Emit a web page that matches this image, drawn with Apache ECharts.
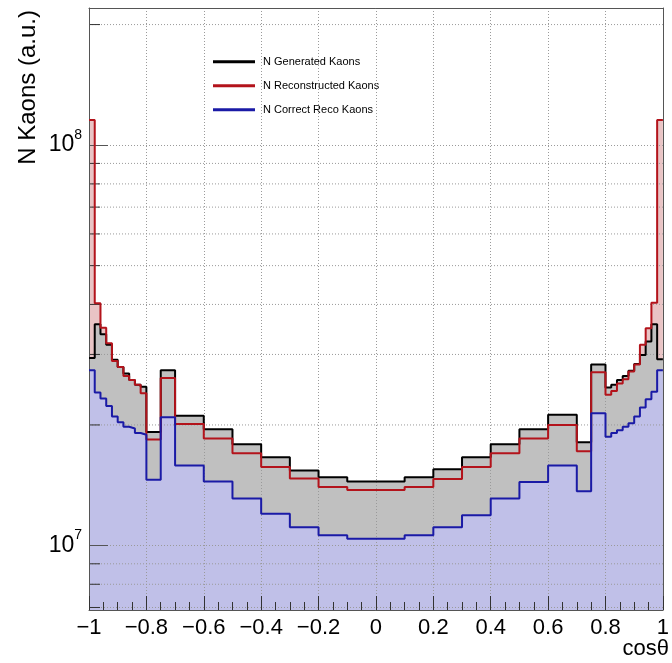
<!DOCTYPE html>
<html>
<head>
<meta charset="utf-8">
<script src="https://cdn.jsdelivr.net/npm/echarts@6/dist/echarts.min.js"></script>
<style>
  html, body { margin: 0; padding: 0; background: #fff; }
  #chart { width: 672px; height: 663px; }
</style>
</head>
<body>
<div id="chart"></div>
<script>
// histogram bin edges in cos(theta)
var binEdges = [-1, -0.98, -0.96, -0.94, -0.92, -0.9, -0.88, -0.86, -0.84, -0.82, -0.8,
  -0.75, -0.7, -0.6, -0.5, -0.4, -0.3, -0.2, -0.1, 0.1, 0.2, 0.3, 0.4, 0.5, 0.6, 0.7, 0.75,
  0.8, 0.82, 0.84, 0.86, 0.88, 0.9, 0.92, 0.94, 0.96, 0.98, 1];

// bin contents, one value per bin
var generated = [2.94e7, 3.57e7, 3.37e7, 3.17e7, 2.91e7, 2.79e7, 2.69e7, 2.59e7, 2.52e7, 2.49e7,
  1.92e7, 2.74e7, 2.11e7, 1.95e7, 1.79e7, 1.66e7, 1.54e7, 1.48e7, 1.445e7,
  1.48e7, 1.55e7, 1.66e7, 1.79e7, 1.95e7, 2.12e7, 1.81e7, 2.83e7,
  2.48e7, 2.52e7, 2.59e7, 2.65e7, 2.73e7, 2.84e7, 2.99e7, 3.23e7, 3.57e7, 2.92e7];

var reconstructed = [1.155e8, 4.03e7, 3.5e7, 3.2e7, 2.89e7, 2.79e7, 2.65e7, 2.59e7, 2.52e7, 2.4e7,
  1.84e7, 2.62e7, 2.01e7, 1.85e7, 1.7e7, 1.57e7, 1.47e7, 1.4e7, 1.376e7,
  1.4e7, 1.465e7, 1.57e7, 1.7e7, 1.85e7, 2.0e7, 1.72e7, 2.71e7,
  2.38e7, 2.43e7, 2.54e7, 2.6e7, 2.72e7, 2.83e7, 3.17e7, 3.49e7, 4.04e7, 1.155e8];

var correctReco = [2.74e7, 2.41e7, 2.33e7, 2.23e7, 2.1e7, 2.03e7, 1.98e7, 1.96e7, 1.91e7, 1.89e7,
  1.46e7, 2.09e7, 1.585e7, 1.445e7, 1.31e7, 1.2e7, 1.11e7, 1.06e7, 1.04e7,
  1.06e7, 1.11e7, 1.19e7, 1.31e7, 1.44e7, 1.585e7, 1.365e7, 2.14e7,
  1.87e7, 1.91e7, 1.94e7, 1.98e7, 2.02e7, 2.1e7, 2.21e7, 2.32e7, 2.42e7, 2.74e7];

var seriesNames = ['N Generated Kaons', 'N Reconstructed Kaons', 'N Correct Reco Kaons'];

// log-axis minor grid values (between the decades)
var yMinorGrid = [7e6, 8e6, 9e6, 2e7, 3e7, 4e7, 5e7, 6e7, 7e7, 8e7, 9e7, 2e8];

var font = 'Liberation Sans, Arial, Helvetica, sans-serif';
var gridDot = { color: '#9a9a9a', width: 1, type: [1, 2] };

function stepPoints(vals) {
  var pts = [];
  for (var i = 0; i < vals.length; i++) {
    pts.push([binEdges[i], vals[i]]);
    pts.push([binEdges[i + 1], vals[i]]);
  }
  return pts;
}

function fillSeries(vals, color) {
  return {
    type: 'line', data: stepPoints(vals), symbol: 'none', silent: true, z: 2,
    lineStyle: { width: 0 },
    areaStyle: { color: color, opacity: 1, origin: 'start' }
  };
}

function lineSeries(name, vals, color) {
  return {
    name: name, type: 'line', data: stepPoints(vals), symbol: 'none', z: 11,
    color: color, itemStyle: { color: color },
    lineStyle: { color: color, width: 2 }
  };
}

var chart = echarts.init(document.getElementById('chart'));

chart.setOption({
  animation: false,
  backgroundColor: '#fff',
  grid: { left: 89, right: 3, top: 8, bottom: 53 },
  legend: {
    data: seriesNames,
    orient: 'vertical', left: 213, top: 55, padding: 0,
    icon: 'rect', itemWidth: 42, itemHeight: 3, itemGap: 10.5,
    textStyle: { fontSize: 11, fontFamily: font, color: '#000', lineHeight: 13.5, padding: [0, 0, 0, 3] }
  },
  xAxis: [{
    type: 'value', min: -1, max: 1, interval: 0.2, z: 10,
    axisLine: { show: true, onZero: false, lineStyle: { color: '#555', width: 1 } },
    axisTick: { show: true, inside: true, length: 14, lineStyle: { color: '#333' } },
    minorTick: { show: true, splitNumber: 4, length: 8, lineStyle: { color: '#333' } },
    splitLine: { show: true, lineStyle: gridDot },
    axisLabel: {
      fontSize: 22, fontFamily: font, color: '#000', margin: 7,
      formatter: function (v) {
        var r = Math.round(v * 10) / 10;
        if (r === 0) return '0';
        return (r < 0 ? '\u2212' : '') + Math.abs(r);
      }
    }
  }, {
    type: 'value', position: 'top', min: -1, max: 1, z: 10,
    axisLine: { show: true, onZero: false, lineStyle: { color: '#555', width: 1 } },
    axisTick: { show: false }, axisLabel: { show: false }, splitLine: { show: false }
  }],
  yAxis: [{
    type: 'log', logBase: 10, min: 6.9e6, max: 2.2e8, z: 10,
    axisLine: { show: true, onZero: false, lineStyle: { color: '#555', width: 1 } },
    axisTick: { show: true, inside: true, length: 19, lineStyle: { color: '#555' } },
    splitLine: { show: true, lineStyle: gridDot },
    axisLabel: {
      showMinLabel: false, showMaxLabel: false, margin: 7,
      formatter: function (v) {
        var e = Math.round(Math.log10(v));
        if (Math.abs(v / Math.pow(10, e) - 1) > 1e-6) return '';
        return '{b|10}{s|' + e + '}';
      },
      rich: {
        b: { fontSize: 23, fontFamily: font, color: '#000', lineHeight: 34 },
        s: { fontSize: 14, fontFamily: font, color: '#000', verticalAlign: 'top', lineHeight: 14 }
      }
    }
  }, {
    type: 'log', logBase: 10, position: 'right', min: 6.9e6, max: 2.2e8, z: 10,
    axisLine: { show: true, onZero: false, lineStyle: { color: '#555', width: 1 } },
    axisTick: { show: false }, axisLabel: { show: false }, splitLine: { show: false }
  }],
  graphic: [{
    type: 'text', x: 28, y: 10, rotation: Math.PI / 2,
    style: { text: 'N Kaons (a.u.)', fontSize: 24, fontFamily: font, fill: '#000', align: 'right', verticalAlign: 'middle' }
  }, {
    type: 'text', x: 669, y: 638,
    style: { text: 'cos\u03b8', fontSize: 22, fontFamily: font, fill: '#000', align: 'right', verticalAlign: 'top' }
  }],
  series: [
    fillSeries(reconstructed, '#e9c4c5'),
    fillSeries(generated, '#c0c0c0'),
    fillSeries(correctReco, '#c0c0e8'),
    {
      type: 'custom', silent: true, z: 9,
      data: yMinorGrid.map(function (v) { return [-1, v]; }),
      renderItem: function (params, api) {
        var y = api.coord([-1, api.value(1)])[1];
        var cs = params.coordSys;
        return {
          type: 'group', children: [
            { type: 'line', shape: { x1: cs.x, y1: y, x2: cs.x + cs.width, y2: y },
              style: { stroke: '#9a9a9a', lineWidth: 1, lineDash: [1, 2] } },
            { type: 'line', shape: { x1: cs.x, y1: y, x2: cs.x + 11, y2: y },
              style: { stroke: '#333', lineWidth: 1 } }
          ]
        };
      }
    },
    lineSeries(seriesNames[0], generated, '#000000'),
    lineSeries(seriesNames[1], reconstructed, '#b3131b'),
    lineSeries(seriesNames[2], correctReco, '#1a1aa6')
  ]
});
</script>
</body>
</html>
